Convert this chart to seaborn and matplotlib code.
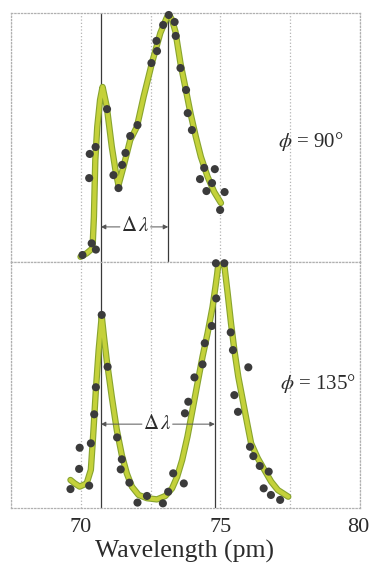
import numpy as np
import pandas as pd
import matplotlib.pyplot as plt
import matplotlib.patheffects as pe
import matplotlib.transforms as mtransforms
import seaborn as sns

# phi = 90 deg panel, intensities scaled to the panel's peak
top_pts_x = [70.06, 70.39, 70.54, 70.30, 70.32, 70.53, 70.94, 71.17, 71.35, 71.48,
             71.60, 71.77, 72.03, 72.53, 72.73, 72.71, 72.95, 73.15, 73.36, 73.40,
             73.57, 73.77, 73.83, 73.98, 74.42, 74.27, 74.80, 74.70, 74.50, 75.15, 74.99]
top_pts_y = [0.028, 0.075, 0.050, 0.337, 0.434, 0.462, 0.614, 0.349, 0.297, 0.390,
             0.438, 0.506, 0.550, 0.799, 0.847, 0.888, 0.952, 0.992, 0.964, 0.908,
             0.779, 0.691, 0.598, 0.530, 0.378, 0.333, 0.373, 0.317, 0.285, 0.281, 0.209]
top_fit_x = [69.99, 70.21, 70.42, 70.47, 70.52, 70.59, 70.69, 70.78, 70.93, 71.11,
             71.26, 71.35, 71.53, 71.77, 72.01, 72.25, 72.55, 72.85, 73.07, 73.15,
             73.27, 73.39, 73.57, 73.75, 73.93, 74.12, 74.30, 74.54, 74.78, 75.02]
top_fit_y = [0.021, 0.035, 0.055, 0.182, 0.410, 0.543, 0.651, 0.703, 0.624, 0.463,
             0.356, 0.309, 0.383, 0.490, 0.543, 0.664, 0.800, 0.920, 0.979, 0.996,
             0.972, 0.925, 0.798, 0.699, 0.597, 0.503, 0.423, 0.343, 0.281, 0.237]

# phi = 135 deg panel
bot_pts_x = [69.63, 69.94, 69.96, 70.30, 70.36, 70.48, 70.54, 70.75, 70.96, 71.30,
             71.47, 71.43, 71.74, 72.03, 72.37, 72.94, 73.13, 73.31, 73.69, 73.73,
             73.85, 74.07, 74.36, 74.44, 74.69, 74.85, 74.84, 75.14, 75.37, 75.45,
             76.00, 75.50, 75.63, 76.06, 76.18, 76.41, 76.73, 76.55, 76.81, 77.14]
bot_pts_y = [0.077, 0.159, 0.245, 0.091, 0.263, 0.381, 0.491, 0.785, 0.574, 0.287,
             0.198, 0.157, 0.103, 0.022, 0.049, 0.019, 0.066, 0.141, 0.100, 0.385,
             0.432, 0.531, 0.584, 0.670, 0.740, 0.852, 0.995, 0.995, 0.714, 0.642,
             0.572, 0.459, 0.391, 0.249, 0.211, 0.171, 0.148, 0.080, 0.053, 0.033]
bot_fit_x = [69.63, 69.78, 69.96, 70.21, 70.36, 70.44, 70.54, 70.64, 70.75, 70.83,
             70.93, 71.11, 71.29, 71.47, 71.65, 71.83, 72.07, 72.37, 72.73, 73.03,
             73.27, 73.45, 73.63, 73.82, 74.00, 74.18, 74.36, 74.54, 74.72, 74.84,
             74.92, 75.02, 75.14, 75.26, 75.38, 75.50, 75.64, 75.80, 75.96, 76.10,
             76.34, 76.58, 76.82, 77.06, 77.43]
bot_fit_y = [0.114, 0.100, 0.087, 0.100, 0.155, 0.290, 0.480, 0.642, 0.780, 0.696,
             0.600, 0.452, 0.317, 0.215, 0.140, 0.087, 0.053, 0.040, 0.035, 0.049,
             0.080, 0.127, 0.195, 0.290, 0.398, 0.507, 0.615, 0.710, 0.818, 0.913,
             0.981, 1.000, 0.988, 0.873, 0.751, 0.642, 0.534, 0.439, 0.344, 0.263,
             0.202, 0.154, 0.107, 0.073, 0.046]

unshifted = 70.72          # primary peak line
shifted = [73.13, 74.80]    # shifted peak line for each panel
angle_labels = [r'$\phi$ = 90°', r'$\phi$ = 135°']
xticks = [67.5, 70, 72.5, 75, 77.5, 80]
xticklabels = ['', '70', '', '75', '', '80']

sns.set_theme(style='white')
plt.rcParams['font.family'] = ['Liberation Serif', 'DejaVu Serif']
plt.rcParams['mathtext.fontset'] = 'stix'

fig = plt.figure(figsize=(3.69, 5.68), dpi=100)
ax1 = fig.add_axes([0.0298, 0.5387, 0.9458, 0.4384])
ax2 = fig.add_axes([0.0298, 0.1056, 0.9458, 0.4331])

panels = [
    (ax1, top_pts_x, top_pts_y, top_fit_x, top_fit_y, shifted[0], angle_labels[0], (77.08, 0.482), (71.95, 0.141)),
    (ax2, bot_pts_x, bot_pts_y, bot_fit_x, bot_fit_y, shifted[1], angle_labels[1], (77.12, 0.508), (72.74, 0.341)),
]

ink = '#2b2b2b'
for ax, px, py, fx, fy, shift, lab, lab_pos, dl_pos in panels:
    ax.set_xlim(67.5, 80)
    ax.set_ylim(0, 1)
    ax.set_xticks(xticks)
    ax.set_yticks([])
    ax.grid(axis='x', linestyle=':', color='#b4b4b4', linewidth=0.9)
    for s in ax.spines.values():
        s.set_linestyle(':')
        s.set_color('#b0b0b0')
        s.set_linewidth(0.9)

    ax.axvline(unshifted, color='#3a3a3a', lw=0.9, zorder=2)
    ax.axvline(shift, color='#3a3a3a', lw=0.9, zorder=2)

    fit = pd.DataFrame({'x': fx, 'y': fy})
    sns.lineplot(data=fit, x='x', y='y', ax=ax, sort=False, estimator=None,
                 color='#c4d13a', lw=3.0, zorder=3,
                 path_effects=[pe.Stroke(linewidth=4.6, foreground='#88a42e'), pe.Normal()])
    pts = pd.DataFrame({'x': px, 'y': py})
    sns.scatterplot(data=pts, x='x', y='y', ax=ax, s=34, color='#3b3b3b',
                    edgecolor='none', zorder=4, clip_on=False)

    ax.text(lab_pos[0], lab_pos[1], lab, fontsize=15, color=ink, va='center', ha='left')

    # delta-lambda marker between the two peak lines
    ax.text(dl_pos[0], dl_pos[1], r'$\Delta\,\lambda$', fontsize=15, color=ink,
            ha='center', va='center')
    half = 0.55
    for tx, hx in [(dl_pos[0] - half, unshifted), (dl_pos[0] + half, shift)]:
        ax.annotate('', xy=(hx, dl_pos[1]), xytext=(tx, dl_pos[1]),
                    arrowprops=dict(arrowstyle='-|>', color='#555555', lw=0.7,
                                    mutation_scale=7, shrinkA=0, shrinkB=0))
    ax.set_xlabel('')
    ax.set_ylabel('')

ax1.tick_params(axis='x', length=0, labelbottom=False)
ax2.set_xticklabels(xticklabels)
ax2.tick_params(axis='x', length=0, pad=7, labelsize=16, labelcolor=ink)
# keep the last tick label inside the canvas edge
last = ax2.get_xticklabels()[-1]
last.set_transform(last.get_transform() + mtransforms.ScaledTranslation(-2 / 100, 0, fig.dpi_scale_trans))

fig.text(0.499, 0.019, 'Wavelength (pm)', fontsize=18.5, color=ink, ha='center', va='baseline')

fig.savefig('out.png', dpi=100)
plt.close(fig)
